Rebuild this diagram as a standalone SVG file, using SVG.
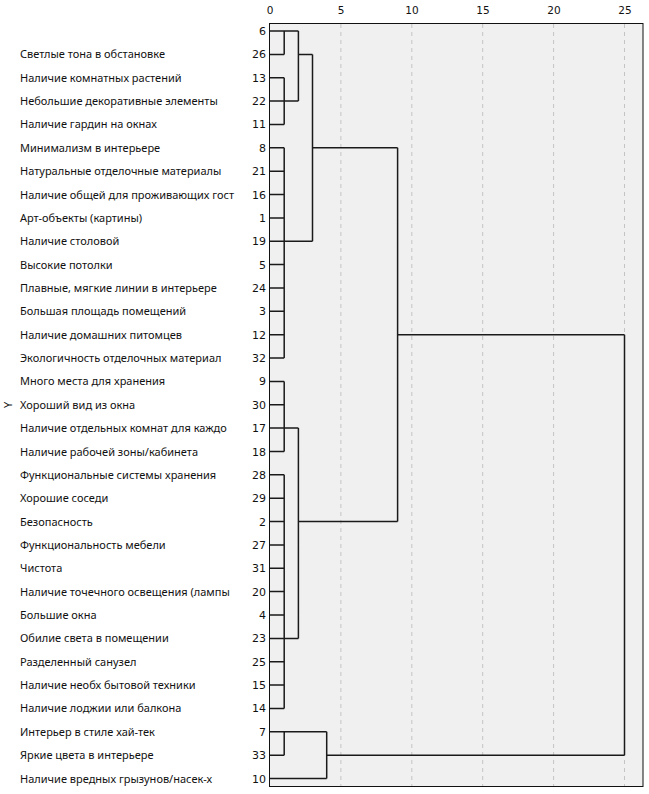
<svg xmlns="http://www.w3.org/2000/svg" width="649" height="794" viewBox="0 0 649 794">
<style>
.lbl{font-family:"Noto Sans","DejaVu Sans",sans-serif;font-size:11px;fill:#111}
.num{font-family:"DejaVu Sans",sans-serif;font-size:11px;fill:#111;text-anchor:end}
.ax{font-family:"DejaVu Sans",sans-serif;font-size:10.5px;fill:#111;text-anchor:middle}
.grid{stroke:#c4c4c4;stroke-width:1;stroke-dasharray:4 4;fill:none}
.ln{stroke:#1a1a1a;stroke-width:1.5;fill:none}
</style>
<rect x="0" y="0" width="649" height="794" fill="#ffffff"/>
<rect x="269.5" y="23.5" width="373.5" height="763" fill="#f0f0f0"/>
<g id="grid">
<line class="grid" x1="340.9" y1="24" x2="340.9" y2="786"/>
<line class="grid" x1="411.8" y1="24" x2="411.8" y2="786"/>
<line class="grid" x1="482.7" y1="24" x2="482.7" y2="786"/>
<line class="grid" x1="553.6" y1="24" x2="553.6" y2="786"/>
<line class="grid" x1="624.5" y1="24" x2="624.5" y2="786"/>
</g>
<rect x="269.5" y="23.5" width="373.5" height="763" fill="none" stroke="#111" stroke-width="1"/>
<g id="axis">
<text class="ax" x="270" y="14">0</text>
<text class="ax" x="341" y="14">5</text>
<text class="ax" x="412" y="14">10</text>
<text class="ax" x="483" y="14">15</text>
<text class="ax" x="554" y="14">20</text>
<text class="ax" x="625" y="14">25</text>
<text class="lbl" transform="translate(12,405) rotate(-90)" text-anchor="middle">Y</text>
</g>
<g id="connectors" class="ln">
<path d="M270 31H298.4 M270 54.4H284.2 M298.4 54.4H312.5 M270 77.7H284.2 M270 101.1H298.4 M270 124.4H284.2
M270 147.8H284.2 M312.5 147.8H397.6 M270 171.2H284.2 M270 194.5H284.2 M270 217.9H284.2 M270 241.2H312.5
M270 264.6H284.2 M270 288H284.2 M270 311.3H284.2 M270 334.7H284.2 M397.6 334.7H624.5 M270 358H284.2
M270 381.4H284.2 M270 404.8H284.2 M270 428.1H298.4 M270 451.5H284.2
M270 474.8H284.2 M270 498.2H284.2 M270 521.6H284.2 M298.4 521.6H397.6 M270 544.9H284.2 M270 568.3H284.2
M270 591.6H284.2 M270 615H284.2 M270 638.4H298.4 M270 661.7H284.2 M270 685.1H284.2 M270 708.4H284.2
M270 731.8H326.7 M270 755.2H284.2 M326.7 755.2H624.5 M270 778.5H326.7
M284.2 31V54.4 M284.2 77.7V124.4 M284.2 147.8V358 M284.2 381.4V451.5 M284.2 474.8V708.4 M284.2 731.8V755.2
M298.4 31V101.1 M298.4 428.1V638.4 M312.5 54.4V241.2 M397.6 147.8V521.6 M326.7 731.8V778.5 M624.5 334.7V755.2"/>
</g>
<g id="leaf-6"><text class="num" x="266" y="35">6</text></g>
<g id="leaf-26"><text class="num" x="266" y="58.4">26</text><text class="lbl" x="20" y="58.4">Светлые тона в обстановке</text></g>
<g id="leaf-13"><text class="num" x="266" y="81.7">13</text><text class="lbl" x="20" y="81.7">Наличие комнатных растений</text></g>
<g id="leaf-22"><text class="num" x="266" y="105.1">22</text><text class="lbl" x="20" y="105.1">Небольшие декоративные элементы</text></g>
<g id="leaf-11"><text class="num" x="266" y="128.4">11</text><text class="lbl" x="20" y="128.4">Наличие гардин на окнах</text></g>
<g id="leaf-8"><text class="num" x="266" y="151.8">8</text><text class="lbl" x="20" y="151.8">Минимализм в интерьере</text></g>
<g id="leaf-21"><text class="num" x="266" y="175.2">21</text><text class="lbl" x="20" y="175.2">Натуральные отделочные материалы</text></g>
<g id="leaf-16"><text class="num" x="266" y="198.5">16</text><text class="lbl" x="20" y="198.5">Наличие общей для проживающих гост</text></g>
<g id="leaf-1"><text class="num" x="266" y="221.9">1</text><text class="lbl" x="20" y="221.9">Арт-объекты (картины)</text></g>
<g id="leaf-19"><text class="num" x="266" y="245.2">19</text><text class="lbl" x="20" y="245.2">Наличие столовой</text></g>
<g id="leaf-5"><text class="num" x="266" y="268.6">5</text><text class="lbl" x="20" y="268.6">Высокие потолки</text></g>
<g id="leaf-24"><text class="num" x="266" y="292">24</text><text class="lbl" x="20" y="292">Плавные, мягкие линии в интерьере</text></g>
<g id="leaf-3"><text class="num" x="266" y="315.3">3</text><text class="lbl" x="20" y="315.3">Большая площадь помещений</text></g>
<g id="leaf-12"><text class="num" x="266" y="338.7">12</text><text class="lbl" x="20" y="338.7">Наличие домашних питомцев</text></g>
<g id="leaf-32"><text class="num" x="266" y="362">32</text><text class="lbl" x="20" y="362">Экологичность отделочных материал</text></g>
<g id="leaf-9"><text class="num" x="266" y="385.4">9</text><text class="lbl" x="20" y="385.4">Много места для хранения</text></g>
<g id="leaf-30"><text class="num" x="266" y="408.8">30</text><text class="lbl" x="20" y="408.8">Хороший вид из окна</text></g>
<g id="leaf-17"><text class="num" x="266" y="432.1">17</text><text class="lbl" x="20" y="432.1">Наличие отдельных комнат для каждо</text></g>
<g id="leaf-18"><text class="num" x="266" y="455.5">18</text><text class="lbl" x="20" y="455.5">Наличие рабочей зоны/кабинета</text></g>
<g id="leaf-28"><text class="num" x="266" y="478.8">28</text><text class="lbl" x="20" y="478.8">Функциональные системы хранения</text></g>
<g id="leaf-29"><text class="num" x="266" y="502.2">29</text><text class="lbl" x="20" y="502.2">Хорошие соседи</text></g>
<g id="leaf-2"><text class="num" x="266" y="525.6">2</text><text class="lbl" x="20" y="525.6">Безопасность</text></g>
<g id="leaf-27"><text class="num" x="266" y="548.9">27</text><text class="lbl" x="20" y="548.9">Функциональность мебели</text></g>
<g id="leaf-31"><text class="num" x="266" y="572.3">31</text><text class="lbl" x="20" y="572.3">Чистота</text></g>
<g id="leaf-20"><text class="num" x="266" y="595.6">20</text><text class="lbl" x="20" y="595.6">Наличие точечного освещения (лампы</text></g>
<g id="leaf-4"><text class="num" x="266" y="619">4</text><text class="lbl" x="20" y="619">Большие окна</text></g>
<g id="leaf-23"><text class="num" x="266" y="642.4">23</text><text class="lbl" x="20" y="642.4">Обилие света в помещении</text></g>
<g id="leaf-25"><text class="num" x="266" y="665.7">25</text><text class="lbl" x="20" y="665.7">Разделенный санузел</text></g>
<g id="leaf-15"><text class="num" x="266" y="689.1">15</text><text class="lbl" x="20" y="689.1">Наличие необх бытовой техники</text></g>
<g id="leaf-14"><text class="num" x="266" y="712.4">14</text><text class="lbl" x="20" y="712.4">Наличие лоджии или балкона</text></g>
<g id="leaf-7"><text class="num" x="266" y="735.8">7</text><text class="lbl" x="20" y="735.8">Интерьер в стиле хай-тек</text></g>
<g id="leaf-33"><text class="num" x="266" y="759.2">33</text><text class="lbl" x="20" y="759.2">Яркие цвета в интерьере</text></g>
<g id="leaf-10"><text class="num" x="266" y="782.5">10</text><text class="lbl" x="20" y="782.5">Наличие вредных грызунов/насек-х</text></g>
</svg>
